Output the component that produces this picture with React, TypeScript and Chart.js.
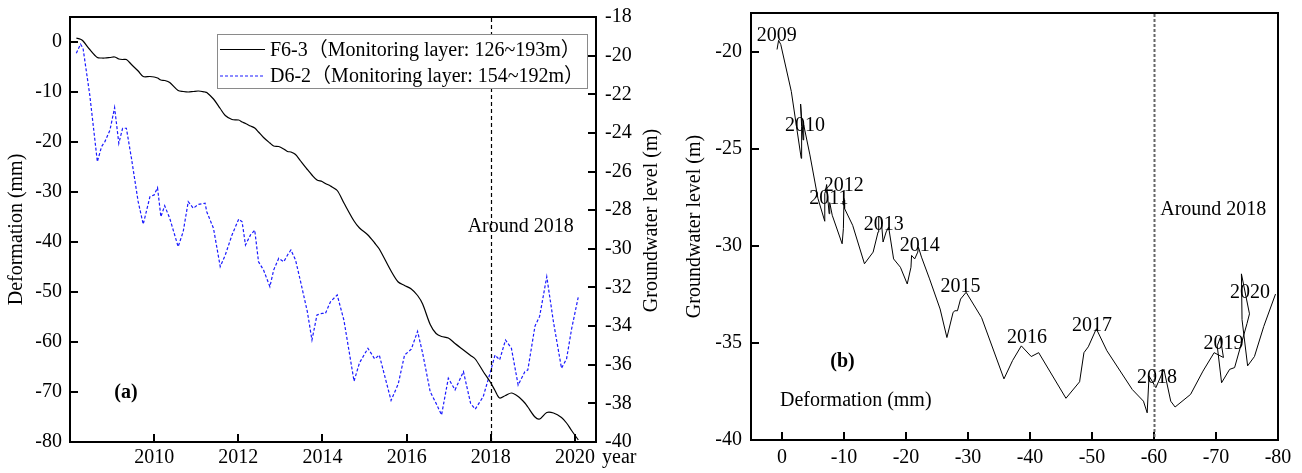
import React, { useEffect, useRef } from 'react';
import { Chart, registerables } from 'chart.js';

Chart.register(...registerables);

const FONT_FAMILY = "'Liberation Serif', 'Times New Roman', 'Noto Sans CJK SC', serif";
Chart.defaults.font.family = FONT_FAMILY;
Chart.defaults.color = '#000';

// ---- Data ----
const years = [
  2008.15, 2008.25, 2008.31, 2008.47, 2008.65, 2008.75, 2008.83, 2008.95, 2009.06, 2009.16,
  2009.25, 2009.34, 2009.46, 2009.62, 2009.74, 2009.90, 2010.00, 2010.08, 2010.16, 2010.25,
  2010.37, 2010.57, 2010.69, 2010.81, 2010.93, 2011.05, 2011.21, 2011.25, 2011.41, 2011.57,
  2011.69, 2011.85, 2012.01, 2012.09, 2012.17, 2012.29, 2012.39, 2012.48, 2012.60, 2012.75,
  2012.84, 2012.96, 2013.08, 2013.17, 2013.25, 2013.36, 2013.48, 2013.64, 2013.75, 2013.87,
  2013.99, 2014.07, 2014.19, 2014.35, 2014.51, 2014.75, 2014.88, 2015.08, 2015.24, 2015.35,
  2015.63, 2015.80, 2015.95, 2016.11, 2016.26, 2016.38, 2016.56, 2016.70, 2016.83, 2016.99,
  2017.15, 2017.35, 2017.52, 2017.63, 2017.82, 2017.98, 2018.10, 2018.21, 2018.35, 2018.49,
  2018.65, 2018.81, 2018.88, 2019.05, 2019.16, 2019.33, 2019.49, 2019.68, 2019.80, 2019.92,
  2020.08,
];

// F6-3 deformation (mm)
const deformation = [
  0.8, 0.55, 0.2, -1.5, -3.1, -3.2, -3.2, -3.1, -3.0, -3.4,
  -3.5, -3.5, -4.5, -5.8, -6.9, -6.9, -7.0, -7.2, -7.6, -7.7,
  -8.1, -9.7, -9.9, -10.0, -9.9, -9.8, -10.0, -10.1, -11.4, -13.3,
  -14.7, -15.5, -15.6, -16.0, -16.3, -16.8, -17.2, -18.0, -19.1, -20.2,
  -20.8, -20.9, -21.4, -21.9, -22.0, -22.5, -23.8, -25.5, -26.6, -27.6,
  -27.9, -28.3, -28.8, -29.7, -32.2, -35.8, -37.2, -38.6, -40.2, -41.4,
  -45.8, -48.0, -48.7, -49.4, -50.7, -52.4, -56.5, -58.3, -58.9, -59.2,
  -60.3, -61.6, -62.7, -63.4, -65.9, -67.9, -69.7, -71.2, -70.7, -70.2,
  -70.9, -72.2, -73.0, -75.0, -75.4, -74.1, -74.2, -75.1, -76.2, -77.7,
  -79.6,
];

// D6-2 groundwater level (m)
const groundwater = [
  -19.88, -19.41, -19.62, -22.04, -25.49, -24.71, -24.45, -23.85, -22.69, -24.54,
  -23.76, -23.76, -25.31, -27.56, -28.73, -27.30, -27.21, -26.84, -28.34, -27.77,
  -28.42, -29.89, -29.11, -27.56, -27.90, -27.70, -27.64, -28.08, -28.94, -30.92,
  -30.32, -29.28, -28.46, -28.60, -29.80, -29.28, -29.03, -30.67, -31.10, -31.96,
  -31.10, -30.49, -30.67, -30.32, -30.06, -30.58, -31.70, -33.25, -34.72, -33.42,
  -33.34, -33.34, -32.74, -32.39, -33.70, -36.85, -35.90, -35.15, -35.70, -35.50,
  -37.85, -37.00, -35.50, -35.20, -34.27, -35.40, -37.40, -38.00, -38.60, -36.70,
  -37.30, -36.36, -38.00, -38.30, -37.65, -36.45, -35.50, -35.75, -34.72, -35.15,
  -37.05, -36.36, -36.27, -34.00, -33.50, -31.44, -33.80, -36.18, -35.70, -34.15,
  -32.48,
];

const seriesNames = ['F6-3（Monitoring layer: 126~193m）', 'D6-2（Monitoring layer: 154~192m）'];

const yearTicksA = [2010, 2012, 2014, 2016, 2018, 2020];
const defTicksA = [0, -10, -20, -30, -40, -50, -60, -70, -80];
const gwTicksA = [-18, -20, -22, -24, -26, -28, -30, -32, -34, -36, -38, -40];
const defTicksB = [0, -10, -20, -30, -40, -50, -60, -70, -80];
const gwTicksB = [-20, -25, -30, -35, -40];

const markerYear = 2018;
const markerDef = -60;

// year tags on panel (b), anchored in data coordinates (deformation, groundwater)
const tagYears = ['2009', '2010', '2011', '2012', '2013', '2014', '2015', '2016', '2017', '2018', '2019', '2020'];
const tagDef = [0.85, -3.7, -7.55, -9.95, -16.4, -22.2, -28.8, -39.5, -50.0, -60.5, -71.2, -75.5];
const tagGw = [-19.42, -24.06, -27.84, -27.15, -29.2, -30.24, -32.4, -34.98, -34.37, -37.08, -35.33, -32.7];

const FS = 20;
const font = (size: number, bold = false) => `${bold ? 'bold ' : ''}${size}px ${FONT_FAMILY}`;

function inwardTicks(ctx: CanvasRenderingContext2D, scale: any, side: string, ca: any, len: number) {
  ctx.beginPath();
  for (const t of scale.ticks) {
    const p = Math.round(scale.getPixelForValue(t.value));
    if (side === 'bottom') {
      ctx.moveTo(p, ca.bottom);
      ctx.lineTo(p, ca.bottom - len);
    } else if (side === 'left') {
      ctx.moveTo(ca.left, p);
      ctx.lineTo(ca.left + len, p);
    } else {
      ctx.moveTo(ca.right, p);
      ctx.lineTo(ca.right - len, p);
    }
  }
  ctx.stroke();
}

const panelAPlugin = {
  id: 'panelA',
  afterDraw(chart: any) {
    const { ctx, chartArea: ca, scales } = chart;
    ctx.save();
    // frame top
    ctx.strokeStyle = '#000';
    ctx.lineWidth = 2;
    ctx.beginPath();
    ctx.moveTo(ca.left - 1, ca.top);
    ctx.lineTo(ca.right + 1, ca.top);
    ctx.stroke();
    inwardTicks(ctx, scales.x, 'bottom', ca, 8);
    inwardTicks(ctx, scales.y, 'left', ca, 8);
    inwardTicks(ctx, scales.y2, 'right', ca, 8);

    // marker line
    const mx = Math.round(scales.x.getPixelForValue(markerYear)) + 0.5;
    ctx.lineWidth = 1.2;
    ctx.setLineDash([4, 3]);
    ctx.beginPath();
    ctx.moveTo(mx, ca.top + 1);
    ctx.lineTo(mx, ca.bottom - 1);
    ctx.stroke();
    ctx.setLineDash([]);

    // annotations
    ctx.fillStyle = '#000';
    ctx.font = font(FS);
    ctx.textAlign = 'left';
    ctx.textBaseline = 'alphabetic';
    ctx.fillText('Around 2018', scales.x.getPixelForValue(2017.45), scales.y.getPixelForValue(-37.9));
    ctx.font = font(FS, true);
    ctx.textAlign = 'center';
    ctx.fillText('(a)', scales.x.getPixelForValue(2009.33), scales.y.getPixelForValue(-71.1));

    // "year" after the x tick labels
    ctx.font = font(FS);
    ctx.textAlign = 'left';
    ctx.textBaseline = 'middle';
    ctx.fillText('year', ca.right + 6, ca.bottom + 15.5);

    // right axis title (reads bottom-to-top)
    ctx.save();
    ctx.translate(652, (ca.top + ca.bottom) / 2 - 9);
    ctx.rotate(-Math.PI / 2);
    ctx.textAlign = 'center';
    ctx.textBaseline = 'middle';
    ctx.fillText('Groundwater level (m)', 0, 0);
    ctx.restore();

    // legend
    const lx = 217.5, ly = 34.5, lw = 370, lh = 54;
    ctx.fillStyle = '#fff';
    ctx.fillRect(lx, ly, lw, lh);
    ctx.strokeStyle = '#8a8a8a';
    ctx.lineWidth = 1;
    ctx.strokeRect(lx, ly, lw, lh);
    const rows = [
      { y: 49.5, color: '#000', dash: [] as number[], base: 55.5 },
      { y: 76, color: '#1a1aff', dash: [3, 2], base: 82 },
    ];
    rows.forEach((r, i) => {
      ctx.strokeStyle = r.color;
      ctx.lineWidth = 1.2;
      ctx.setLineDash(r.dash);
      ctx.beginPath();
      ctx.moveTo(220, r.y);
      ctx.lineTo(265, r.y);
      ctx.stroke();
      ctx.setLineDash([]);
      ctx.fillStyle = '#000';
      ctx.font = font(FS);
      ctx.textAlign = 'left';
      ctx.textBaseline = 'alphabetic';
      ctx.fillText(seriesNames[i], 270, r.base);
    });
    ctx.restore();
  },
};

const panelBPlugin = {
  id: 'panelB',
  afterDraw(chart: any) {
    const { ctx, chartArea: ca, scales } = chart;
    ctx.save();
    ctx.strokeStyle = '#000';
    ctx.lineWidth = 2;
    ctx.beginPath();
    ctx.moveTo(ca.left - 1, ca.top);
    ctx.lineTo(ca.right, ca.top);
    ctx.lineTo(ca.right, ca.bottom + 1);
    ctx.stroke();
    inwardTicks(ctx, scales.x, 'bottom', ca, 8);
    inwardTicks(ctx, scales.y, 'left', ca, 8);

    const mx = Math.round(scales.x.getPixelForValue(markerDef)) + 0.5;
    ctx.strokeStyle = '#666';
    ctx.lineWidth = 2;
    ctx.setLineDash([3, 2]);
    ctx.beginPath();
    ctx.moveTo(mx, ca.top + 1);
    ctx.lineTo(mx, ca.bottom - 1);
    ctx.stroke();
    ctx.setLineDash([]);

    ctx.fillStyle = '#000';
    ctx.font = font(FS);
    ctx.textAlign = 'center';
    ctx.textBaseline = 'alphabetic';
    tagYears.forEach((t, i) => {
      ctx.fillText(t, scales.x.getPixelForValue(tagDef[i]), scales.y.getPixelForValue(tagGw[i]));
    });
    ctx.fillText('Deformation (mm)', scales.x.getPixelForValue(-11.9), scales.y.getPixelForValue(-38.25));
    ctx.font = font(FS, true);
    ctx.fillText('(b)', scales.x.getPixelForValue(-9.75), scales.y.getPixelForValue(-36.22));
    ctx.font = font(FS);
    ctx.textAlign = 'left';
    ctx.fillText('Around 2018', scales.x.getPixelForValue(-61.0), scales.y.getPixelForValue(-28.4));
    ctx.restore();
  },
};

const axisBorder = { display: true, color: '#000', width: 2 };
const noGrid = { display: false, drawTicks: false, tickLength: 0 };
const tickFont = { size: FS, family: FONT_FAMILY };

function fixSize(prop: 'width' | 'height', size: number) {
  return (s: any) => {
    s[prop] = size;
    s.paddingTop = 0;
    s.paddingBottom = 0;
    s.paddingLeft = 0;
    s.paddingRight = 0;
  };
}

function configA(): any {
  return {
    type: 'line',
    data: {
      datasets: [
        {
          label: seriesNames[0],
          data: years.map((t, i) => ({ x: t, y: deformation[i] })),
          yAxisID: 'y',
          borderColor: '#000',
          borderWidth: 1.2,
          pointRadius: 0,
          tension: 0.3,
          fill: false,
        },
        {
          label: seriesNames[1],
          data: years.map((t, i) => ({ x: t, y: groundwater[i] })),
          yAxisID: 'y2',
          borderColor: '#1a1aff',
          borderWidth: 1.2,
          borderDash: [3, 2],
          pointRadius: 0,
          tension: 0,
          fill: false,
        },
      ],
    },
    options: {
      animation: false,
      responsive: false,
      maintainAspectRatio: false,
      layout: { padding: { top: 17, left: 0, right: 0, bottom: 0 } },
      plugins: { legend: { display: false }, tooltip: { enabled: false } },
      events: [],
      scales: {
        x: {
          type: 'linear',
          min: 2008,
          max: 2020.5,
          afterBuildTicks: (s: any) => { s.ticks = yearTicksA.map((v) => ({ value: v })); },
          afterFit: fixSize('height', 31),
          grid: noGrid,
          border: axisBorder,
          ticks: { padding: 3.5, color: '#000', font: tickFont, autoSkip: false, maxRotation: 0, callback: (v: any) => String(v) },
        },
        y: {
          type: 'linear',
          position: 'left',
          min: -80,
          max: 5,
          afterBuildTicks: (s: any) => { s.ticks = defTicksA.map((v) => ({ value: v })); },
          afterFit: fixSize('width', 70),
          grid: noGrid,
          border: axisBorder,
          title: { display: true, text: 'Deformation (mm)', color: '#000', font: tickFont, padding: { top: 5, bottom: 0 } },
          ticks: { padding: 8, color: '#000', font: tickFont, callback: (v: any) => String(v) },
        },
        y2: {
          type: 'linear',
          position: 'right',
          min: -40,
          max: -18,
          afterBuildTicks: (s: any) => { s.ticks = gwTicksA.map((v) => ({ value: v })); },
          afterFit: fixSize('width', 74),
          grid: noGrid,
          border: axisBorder,
          ticks: { padding: 9, color: '#000', font: tickFont, callback: (v: any) => String(v) },
        },
      },
    },
    plugins: [panelAPlugin],
  };
}

function configB(): any {
  return {
    type: 'line',
    data: {
      datasets: [
        {
          label: 'Groundwater level vs deformation',
          data: deformation.map((d, i) => ({ x: d, y: groundwater[i] })),
          borderColor: '#000',
          borderWidth: 1,
          pointRadius: 0,
          tension: 0,
          fill: false,
        },
      ],
    },
    options: {
      animation: false,
      responsive: false,
      maintainAspectRatio: false,
      layout: { padding: { top: 13, left: 0, right: 24, bottom: 0 } },
      plugins: { legend: { display: false }, tooltip: { enabled: false } },
      events: [],
      scales: {
        x: {
          type: 'linear',
          reverse: true,
          min: -80,
          max: 5,
          afterBuildTicks: (s: any) => { s.ticks = defTicksB.map((v) => ({ value: v })); },
          afterFit: fixSize('height', 33),
          grid: noGrid,
          border: axisBorder,
          ticks: { padding: 6, color: '#000', font: tickFont, autoSkip: false, maxRotation: 0, callback: (v: any) => String(v) },
        },
        y: {
          type: 'linear',
          position: 'left',
          min: -40,
          max: -18,
          afterBuildTicks: (s: any) => { s.ticks = gwTicksB.map((v) => ({ value: v })); },
          afterFit: fixSize('width', 81),
          grid: noGrid,
          border: axisBorder,
          title: { display: true, text: 'Groundwater level (m)', color: '#000', font: tickFont, padding: { top: 13, bottom: 0 } },
          ticks: { padding: 9, color: '#000', font: tickFont, callback: (v: any) => String(v) },
        },
      },
    },
    plugins: [panelBPlugin],
  };
}

export default function App() {
  const refA = useRef<HTMLCanvasElement>(null);
  const refB = useRef<HTMLCanvasElement>(null);
  useEffect(() => {
    const a = new Chart(refA.current as HTMLCanvasElement, configA());
    const b = new Chart(refB.current as HTMLCanvasElement, configB());
    return () => {
      a.destroy();
      b.destroy();
    };
  }, []);
  return (
    <div style={{ position: 'absolute', left: 0, top: 0, width: 1302, height: 473, background: '#fff' }}>
      <canvas ref={refA} width={670} height={473} style={{ position: 'absolute', left: 0, top: 0, width: 670, height: 473 }} />
      <canvas ref={refB} width={632} height={473} style={{ position: 'absolute', left: 670, top: 0, width: 632, height: 473 }} />
    </div>
  );
}
